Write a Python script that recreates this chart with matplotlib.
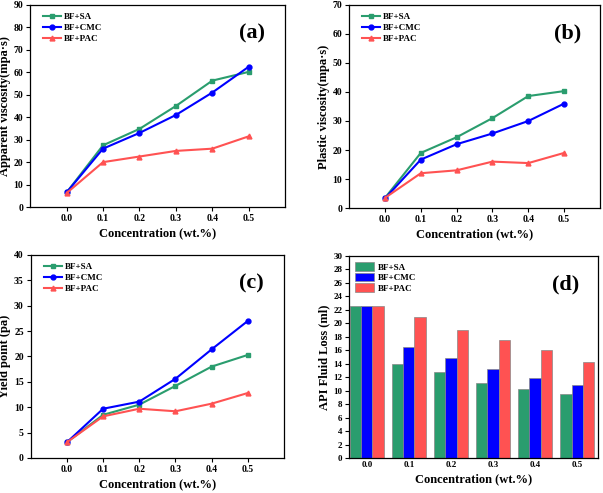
import matplotlib
matplotlib.use("Agg")
import matplotlib.pyplot as plt
import numpy as np

plt.rcParams["font.family"] = ["Liberation Serif", "DejaVu Serif"]
plt.rcParams["font.weight"] = "bold"

conc = [0.0, 0.1, 0.2, 0.3, 0.4, 0.5]
conc_labels = ["0.0", "0.1", "0.2", "0.3", "0.4", "0.5"]
series = ["BF+SA", "BF+CMC", "BF+PAC"]

# (a) apparent viscosity
av_sa = [6.5, 27.5, 34.8, 45.0, 56.3, 60.2]
av_cmc = [6.5, 26.0, 33.0, 41.0, 51.0, 62.5]
av_pac = [6.2, 20.0, 22.5, 25.0, 26.0, 31.5]

# (b) plastic viscosity
pv_sa = [3.5, 19.0, 24.4, 31.0, 38.6, 40.3]
pv_cmc = [3.3, 16.7, 22.0, 25.7, 30.0, 36.0]
pv_pac = [3.5, 12.0, 13.0, 16.0, 15.5, 19.0]

# (c) yield point
yp_sa = [3.1, 8.5, 10.5, 14.2, 18.0, 20.3]
yp_cmc = [3.1, 9.7, 11.1, 15.6, 21.4, 27.0]
yp_pac = [3.1, 8.2, 9.7, 9.2, 10.7, 12.8]

# (d) API fluid loss
fl_sa = [22.5, 13.9, 12.7, 11.1, 10.2, 9.5]
fl_cmc = [22.5, 16.5, 14.8, 13.2, 11.9, 10.8]
fl_pac = [22.5, 21.0, 19.0, 17.5, 16.1, 14.3]

GREEN = "#2a9d6e"
BLUE = "#0000ff"
RED = "#ff5252"
colors = [GREEN, BLUE, RED]
markers = ["s", "o", "^"]

fig = plt.figure(figsize=(6.03, 4.93), dpi=100)

LABEL_FS = 9


def style_axes(ax, tick_fs):
    for s in ax.spines.values():
        s.set_linewidth(0.9)
    ax.tick_params(direction="out", length=3, width=0.8, labelsize=tick_fs,
                   top=False, right=False, pad=2)
    for lab in ax.get_xticklabels() + ax.get_yticklabels():
        lab.set_fontweight("bold")


def line_panel(rect, data, ylim, ystep, ylabel, tag):
    ax = fig.add_axes(rect)
    for vals, c, m, name in zip(data, colors, markers, series):
        ax.plot(conc, vals, color=c, marker=m, markersize=3.5, lw=1.5, label=name)
    ax.set_xlim(-0.1, 0.6)
    ax.set_xticks(conc)
    ax.set_xticklabels(conc_labels)
    ax.set_ylim(*ylim)
    ax.set_yticks(np.arange(ylim[0], ylim[1] + 0.1, ystep))
    ax.set_xlabel("Concentration (wt.%)", fontsize=LABEL_FS, fontweight="bold", labelpad=3)
    ax.set_ylabel(ylabel, fontsize=LABEL_FS, fontweight="bold", labelpad=2)
    leg = ax.legend(loc="upper left", frameon=False, fontsize=6.5, handlelength=2.0,
                    labelspacing=0.3, borderaxespad=0.5, handletextpad=0.3,
                    bbox_to_anchor=(0.02, 1.0))
    for t in leg.get_texts():
        t.set_fontweight("bold")
    ax.text(0.87, 0.86, tag, transform=ax.transAxes, fontsize=16, fontweight="bold",
            ha="center", va="center")
    style_axes(ax, 7)
    return ax


line_panel([0.050, 0.580, 0.423, 0.410], [av_sa, av_cmc, av_pac], (0, 90), 10,
           "Apparent viscosity(mpa·s)", "(a)")
line_panel([0.579, 0.578, 0.416, 0.412], [pv_sa, pv_cmc, pv_pac], (0, 70), 10,
           "Plastic viscosity(mpa·s)", "(b)")
line_panel([0.051, 0.071, 0.420, 0.412], [yp_sa, yp_cmc, yp_pac], (0, 40), 5,
           "Yield point (pa)", "(c)")

# (d) bars
ax = fig.add_axes([0.579, 0.071, 0.413, 0.410])
x = np.arange(len(conc))
w = 0.267
for i, (vals, c, name) in enumerate(zip([fl_sa, fl_cmc, fl_pac], colors, series)):
    ax.bar(x + (i - 1) * w, vals, width=w, color=c, edgecolor="#888888",
           linewidth=0.5, label=name)
ax.set_xlim(-0.42, 5.5)
ax.set_xticks(x)
ax.set_xticklabels(conc_labels)
ax.set_ylim(0, 30)
ax.set_yticks(np.arange(0, 31, 2))
ax.set_xlabel("Concentration (wt.%)", fontsize=LABEL_FS, fontweight="bold", labelpad=3)
ax.set_ylabel("API Fluid Loss (ml)", fontsize=LABEL_FS, fontweight="bold", labelpad=2)
leg = ax.legend(loc="upper left", frameon=False, fontsize=6.5, handlelength=2.1,
                handleheight=1.1, labelspacing=0.12, borderaxespad=0.3,
                handletextpad=0.4, bbox_to_anchor=(0.0, 1.0))
for t in leg.get_texts():
    t.set_fontweight("bold")
ax.text(0.87, 0.86, "(d)", transform=ax.transAxes, fontsize=16, fontweight="bold",
        ha="center", va="center")
style_axes(ax, 6.5)
ax.tick_params(axis="x", length=0)

fig.savefig("out.png", dpi=100)
